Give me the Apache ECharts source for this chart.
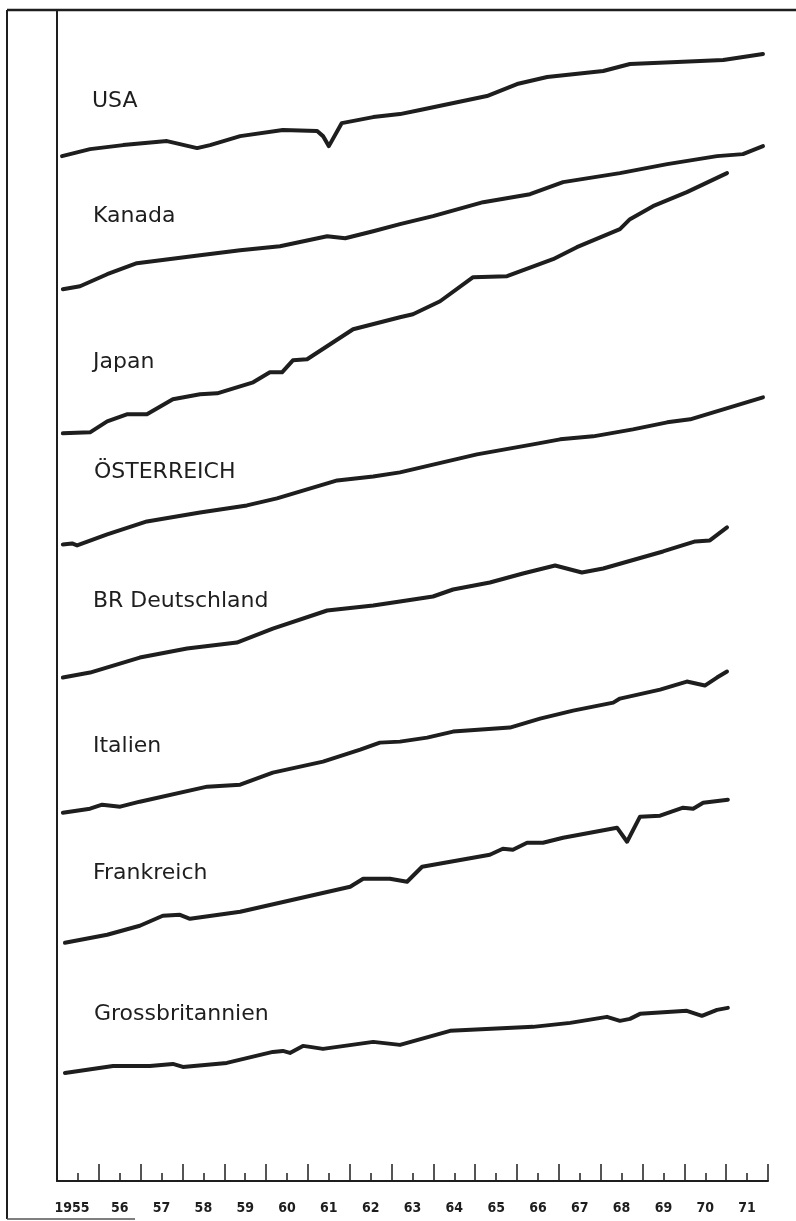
<!DOCTYPE html>
<html>
<head>
<meta charset="utf-8">
<script src="https://cdn.jsdelivr.net/npm/echarts@6/dist/echarts.min.js"></script>
<style>
html,body{margin:0;padding:0;background:#fff;}
#chart{width:796px;height:1221px;}
</style>
</head>
<body>
<div id="chart"></div>
<script>
// Year labels (one per year, centred in each year band)
const yearLabels = ['1955','56','57','58','59','60','61','62','63','64','65','66','67','68','69','70','71'];

// Country names
const countries = ['USA','Kanada','Japan','ÖSTERREICH','BR Deutschland','Italien','Frankreich','Grossbritannien'];

// Series values: [year, index value] (relative vertical scale, curves stacked by country)
const usa = [[1955.12,102.4],[1955.79,103.1],[1956.58,103.5],[1957.63,103.9],[1957.94,103.6],[1958.35,103.2],[1958.66,103.5],[1959.38,104.4],[1960.40,105.0],[1961.22,104.9],[1961.36,104.4],[1961.50,103.4],[1961.81,105.7],[1962.56,106.3],[1963.20,106.6],[1963.68,107.0],[1965.28,108.4],[1966.00,109.6],[1966.72,110.3],[1968.06,110.9],[1968.70,111.6],[1969.83,111.8],[1970.93,112.0],[1971.88,112.6]];
const kanada = [[1955.14,89.1],[1955.55,89.4],[1956.20,90.6],[1956.91,91.7],[1958.42,92.5],[1959.38,93.0],[1960.33,93.4],[1961.46,94.4],[1961.89,94.2],[1962.56,94.9],[1963.20,95.6],[1963.99,96.4],[1965.19,97.8],[1966.31,98.6],[1967.10,99.8],[1968.46,100.7],[1969.59,101.6],[1970.78,102.4],[1971.40,102.6],[1971.88,103.4]];
const japan = [[1955.14,74.7],[1955.79,74.8],[1956.20,75.9],[1956.67,76.6],[1957.15,76.6],[1957.77,78.1],[1958.42,78.6],[1958.83,78.7],[1959.69,79.8],[1960.09,80.8],[1960.38,80.8],[1960.64,82.0],[1960.98,82.1],[1961.53,83.6],[1962.08,85.1],[1963.20,86.3],[1963.51,86.6],[1964.16,87.9],[1964.95,90.3],[1965.76,90.4],[1966.86,92.1],[1967.43,93.3],[1968.46,95.1],[1968.70,96.1],[1969.25,97.4],[1970.06,98.8],[1971.02,100.7]];
const oesterreich = [[1955.14,63.6],[1955.36,63.7],[1955.48,63.5],[1956.20,64.6],[1957.15,65.9],[1958.42,66.8],[1959.54,67.5],[1960.26,68.2],[1961.70,70.0],[1962.56,70.4],[1963.20,70.8],[1965.04,72.6],[1966.38,73.6],[1967.03,74.1],[1967.82,74.4],[1968.77,75.1],[1969.59,75.8],[1970.14,76.1],[1971.88,78.3]];
const deutschland = [[1955.14,50.3],[1955.79,50.8],[1956.98,52.3],[1958.11,53.2],[1959.30,53.8],[1960.16,55.2],[1961.46,57.0],[1962.56,57.5],[1963.20,57.9],[1963.99,58.4],[1964.47,59.1],[1965.35,59.8],[1966.14,60.7],[1966.91,61.5],[1967.55,60.8],[1968.06,61.2],[1969.49,62.9],[1970.26,63.9],[1970.61,64.0],[1971.02,65.3]];
const italien = [[1955.14,36.8],[1955.79,37.2],[1956.08,37.6],[1956.51,37.4],[1956.98,37.9],[1958.59,39.4],[1959.38,39.6],[1960.16,40.8],[1961.36,41.9],[1962.25,43.1],[1962.72,43.8],[1963.20,43.9],[1963.85,44.3],[1964.47,44.9],[1965.83,45.3],[1966.55,46.2],[1967.34,47.0],[1968.30,47.8],[1968.46,48.2],[1969.42,49.1],[1970.06,49.9],[1970.49,49.5],[1970.78,50.3],[1971.02,50.9]];
const frankreich = [[1955.19,23.8],[1956.20,24.6],[1956.98,25.5],[1957.53,26.5],[1957.94,26.6],[1958.18,26.2],[1959.38,26.9],[1962.01,29.4],[1962.32,30.2],[1962.96,30.2],[1963.37,29.9],[1963.73,31.4],[1965.35,32.6],[1965.66,33.2],[1965.90,33.1],[1966.24,33.8],[1966.62,33.8],[1967.10,34.3],[1968.39,35.3],[1968.63,33.9],[1968.94,36.4],[1969.42,36.5],[1969.97,37.3],[1970.21,37.2],[1970.45,37.8],[1971.04,38.1]];
const grossbritannien = [[1955.19,10.8],[1956.34,11.5],[1957.22,11.5],[1957.77,11.7],[1958.01,11.4],[1959.06,11.8],[1960.16,12.9],[1960.40,13.0],[1960.57,12.8],[1960.88,13.5],[1961.05,13.4],[1961.36,13.2],[1962.56,13.9],[1963.20,13.6],[1964.40,15.0],[1966.38,15.4],[1967.27,15.8],[1968.15,16.4],[1968.46,16.0],[1968.70,16.2],[1968.94,16.7],[1970.06,17.0],[1970.42,16.5],[1970.78,17.1],[1971.04,17.3]];

const seriesData = [usa, kanada, japan, oesterreich, deutschland, italien, frankreich, grossbritannien];

const INK = '#1e1e1e';
const chart = echarts.init(document.getElementById('chart'), null, {renderer: 'canvas'});

const labelPos = [[92,101],[93,216],[93,362],[94,472],[93,601],[93,746],[93,873],[94,1014]];

chart.setOption({
  backgroundColor: '#ffffff',
  animation: false,
  grid: {left: 57, right: 28, top: 10, bottom: 40, containLabel: false},
  xAxis: [
    {
      type: 'value', min: 1955, max: 1972, interval: 1,
      axisLine: {show: true, onZero: false, lineStyle: {color: INK, width: 2}},
      axisTick: {show: true, inside: true, length: 17, lineStyle: {color: INK, width: 1.5}},
      minorTick: {show: true, splitNumber: 2, length: 8, lineStyle: {color: INK, width: 1.5}},
      axisLabel: {show: false},
      splitLine: {show: false}
    },
    {
      type: 'category', data: yearLabels, position: 'bottom', boundaryGap: true,
      axisLine: {show: false}, axisTick: {show: false}, splitLine: {show: false},
      axisLabel: {
        show: true, interval: 0, hideOverlap: false, margin: 20, color: INK, fontSize: 14,
        fontFamily: 'DejaVu Sans Condensed', fontWeight: 'bold',
        formatter: function (v) { return v === '1955' ? '{f|' + v + '}' : v; },
        rich: {f: {fontSize: 14, fontFamily: 'DejaVu Sans Condensed', fontWeight: 'bold', color: INK, padding: [0, 12, 0, 0]}}
      }
    }
  ],
  yAxis: {
    type: 'value', min: 0, max: 117,
    axisLine: {show: true, lineStyle: {color: INK, width: 2}},
    axisTick: {show: false}, axisLabel: {show: false}, splitLine: {show: false}
  },
  series: seriesData.map((d, i) => ({
    name: countries[i], type: 'line', xAxisIndex: 0, data: d,
    showSymbol: false, symbol: 'none', smooth: false,
    lineStyle: {color: INK, width: 4, join: 'round', cap: 'round'}
  })),
  graphic: [
    {type: 'line', shape: {x1: 7, y1: 10, x2: 7, y2: 1219}, style: {stroke: INK, lineWidth: 2}},
    {type: 'line', shape: {x1: 7, y1: 10, x2: 796, y2: 10}, style: {stroke: INK, lineWidth: 2.5}},
    {type: 'line', shape: {x1: 7, y1: 1219, x2: 135, y2: 1219}, style: {stroke: '#555', lineWidth: 1.5}}
  ].concat(countries.map((c, i) => ({
    type: 'text', left: labelPos[i][0], top: labelPos[i][1] - 11,
    style: {text: c, fill: INK, font: '22px "DejaVu Sans"', textVerticalAlign: 'top'}
  })))
});
</script>
</body>
</html>
